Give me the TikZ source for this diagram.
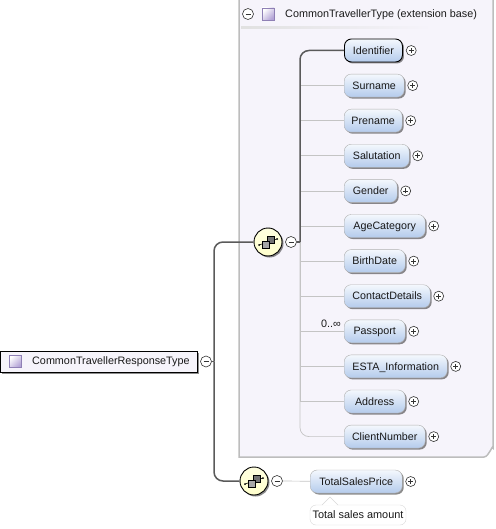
\documentclass[tikz,border=0pt]{standalone}
\usepackage{fontspec}
\setmainfont{Liberation Sans}
\usepackage{xcolor}
\usetikzlibrary{positioning,shadows}

\definecolor{panelfill}{HTML}{F6F4FB}
\definecolor{panelline}{HTML}{BDBDBD}
\definecolor{elemtop}{HTML}{F4F8FD}
\definecolor{elembot}{HTML}{B4CBEC}
\definecolor{elemline}{HTML}{B0B0B0}
\definecolor{seqfill}{HTML}{FFFFCC}
\definecolor{typefill}{HTML}{B3A3D6}
\definecolor{typeline}{HTML}{8F80B5}
\definecolor{wireline}{HTML}{5A5A5A}
\definecolor{thinline}{HTML}{C4C4C4}

\begin{document}
\begin{tikzpicture}[
    x=1pt, y=-1pt,
    node distance=35.1pt,
    elem/.style={draw=elemline, rounded corners=7pt, top color=elemtop, bottom color=elembot, minimum height=23pt, inner xsep=0pt, inner ysep=0pt, font=\fontsize{10.7}{12}\selectfont, text=black!90, text height=9.2pt, text depth=2pt, drop shadow={shadow xshift=1.5pt, shadow yshift=-1.5pt, fill=black, opacity=.45}},
    elemkey/.style={elem, draw=black, line width=0.9pt},
    plusmark/.style={draw=black!80, circle, fill=white, minimum size=10pt, inner sep=0pt, line width=0.6pt, path picture={\draw[line width=0.6pt] (path picture bounding box.center) +(-2.5pt,0) -- +(2.5pt,0) +(0,-2.5pt) -- +(0,2.5pt);}},
    minusmark/.style={draw=black!80, circle, fill=white, minimum size=11pt, inner sep=0pt, line width=0.6pt, path picture={\draw[line width=0.6pt] (path picture bounding box.center) +(-2.5pt,0) -- +(2.5pt,0);}},
    typemark/.style={draw=typeline, top color=white, bottom color=typefill, shading angle=45, minimum size=12pt, inner sep=0pt},
    seqmark/.style={draw=black, circle, line width=0.9pt, top color=seqfill!60!white, bottom color=seqfill, minimum size=28pt, inner sep=0pt, drop shadow={shadow xshift=1.5pt, shadow yshift=-1.5pt, fill=black, opacity=.45}},
    label/.style={font=\fontsize{10.8}{12}\selectfont, text=black!90, inner sep=0pt, text height=8.6pt, text depth=2pt},
    mainwire/.style={draw=wireline, line width=1.5pt, rounded corners=9pt},
    subwire/.style={draw=thinline, line width=0.7pt},
    seqicon/.pic={
        \draw[line width=0.6pt] (-9,3) -- (9,-3);
        \draw[fill=black!55, line width=0.5pt] (-1,-6) rectangle (6,1);
        \draw[fill=black!35, line width=0.5pt] (-6,-1) rectangle (1,6);
        \fill (-9,3) circle (1pt) (9,-3) circle (1pt);
    }
]
\useasboundingbox (0,0) rectangle (495,529);

% extension panel
\draw[draw=panelline, fill=panelfill, line width=1.5pt] (239,-2) -- (239,457) -- (484,457) to[out=0,in=90] (493,448) -- (493,-2) -- cycle;
\node[minusmark] (panelminus) at (248,14) {};
\node[typemark] (paneltype) at (268,14) {};
\node[label, anchor=west] (paneltitle) at (285,14) {CommonTravellerType (extension base)};
\shade[left color=black!12, right color=panelfill] (241,27) rectangle (432,29);

% root
\node[draw=black, line width=0.9pt, fill=panelfill, minimum width=197pt, minimum height=21pt, inner sep=0pt, drop shadow={shadow xshift=1.5pt, shadow yshift=-1.5pt, fill=black, opacity=.45}] (root) at (98.5,361.5) {};
\node[typemark] (roottype) at (15,361.5) {};
\node[label, anchor=west] (roottitle) at (32,361.5) {CommonTravellerResponseType};
\node[minusmark] (rootminus) at (206,361.5) {};

% sequences
\node[seqmark] (seqa) at (268,242) {};
\pic at (seqa) {seqicon};
\node[minusmark] (seqaminus) at (291,242) {};
\node[seqmark] (seqb) at (254,481) {};
\pic at (seqb) {seqicon};
\node[minusmark] (seqbminus) at (277,481) {};

\coordinate (trunk) at (214,361.5);
\coordinate (branch) at (300,242);

% elements of the extension
\node[elemkey, minimum width=58pt, anchor=west] (identifier) at (344,50.5) {Identifier};
\node[elem, minimum width=60pt, below=of identifier.west, anchor=west] (surname) {Surname};
\node[elem, minimum width=58pt, below=of surname.west, anchor=west] (prename) {Prename};
\node[elem, minimum width=65pt, below=of prename.west, anchor=west] (salutation) {Salutation};
\node[elem, minimum width=53pt, below=of salutation.west, anchor=west] (gender) {Gender};
\node[elem, minimum width=81pt, below=of gender.west, anchor=west] (agecategory) {AgeCategory};
\node[elem, minimum width=61pt, below=of agecategory.west, anchor=west] (birthdate) {BirthDate};
\node[elem, minimum width=86pt, below=of birthdate.west, anchor=west] (contactdetails) {ContactDetails};
\node[elem, minimum width=61pt, below=of contactdetails.west, anchor=west] (passport) {Passport};
\node[elem, minimum width=103pt, below=of passport.west, anchor=west] (esta) {ESTA\_Information};
\node[elem, minimum width=61pt, below=of esta.west, anchor=west] (address) {Address};
\node[elem, minimum width=81pt, below=of address.west, anchor=west] (clientnumber) {ClientNumber};
\node[elem, minimum width=92pt, anchor=west] (totalprice) at (310,481.5) {TotalSalesPrice};

\node[plusmark, right=3pt of identifier] (identifierplus) {};
\node[plusmark, right=3pt of surname] (surnameplus) {};
\node[plusmark, right=3pt of prename] (prenameplus) {};
\node[plusmark, right=3pt of salutation] (salutationplus) {};
\node[plusmark, right=3pt of gender] (genderplus) {};
\node[plusmark, right=3pt of agecategory] (agecategoryplus) {};
\node[plusmark, right=3pt of birthdate] (birthdateplus) {};
\node[plusmark, right=3pt of contactdetails] (contactdetailsplus) {};
\node[plusmark, right=3pt of passport] (passportplus) {};
\node[plusmark, right=3pt of esta] (estaplus) {};
\node[plusmark, right=3pt of address] (addressplus) {};
\node[plusmark, right=3pt of clientnumber] (clientnumberplus) {};
\node[plusmark, right=3pt of totalprice] (totalpriceplus) {};

\node[label, anchor=east] (passportcount) at (341,324) {0..∞};

% note
\node[draw=black!15, fill=white, rounded corners=6pt, minimum width=96pt, minimum height=20pt, inner sep=0pt, font=\fontsize{10.9}{12}\selectfont, text=black!90, text height=9.2pt, text depth=2pt] (note) at (358,515) {Total sales amount};
\fill[white] (322,505.5) -- (330,497) -- (338,505.5) -- cycle;
\draw[draw=black!15] (322,505) -- (330,497) -- (338,505);

% wires
\draw[subwire] (branch) |- (surname);
\draw[subwire] (branch) |- (prename);
\draw[subwire] (branch) |- (salutation);
\draw[subwire] (branch) |- (gender);
\draw[subwire] (branch) |- (agecategory);
\draw[subwire] (branch) |- (birthdate);
\draw[subwire] (branch) |- (contactdetails);
\draw[subwire] (branch) |- (passport);
\draw[subwire] (branch) |- (esta);
\draw[subwire] (branch) |- (address);
\draw[subwire, rounded corners=9pt] (branch) |- (clientnumber);
\draw[subwire] (seqbminus) -- (totalprice);
\draw[mainwire] (branch) |- (identifier);
\draw[mainwire, rounded corners=0pt] (seqaminus) -- (branch);
\draw[mainwire, rounded corners=0pt] (rootminus) -- (trunk);
\draw[mainwire] (trunk) |- (seqa);
\draw[mainwire] (trunk) |- (seqb);
\end{tikzpicture}
\end{document}
